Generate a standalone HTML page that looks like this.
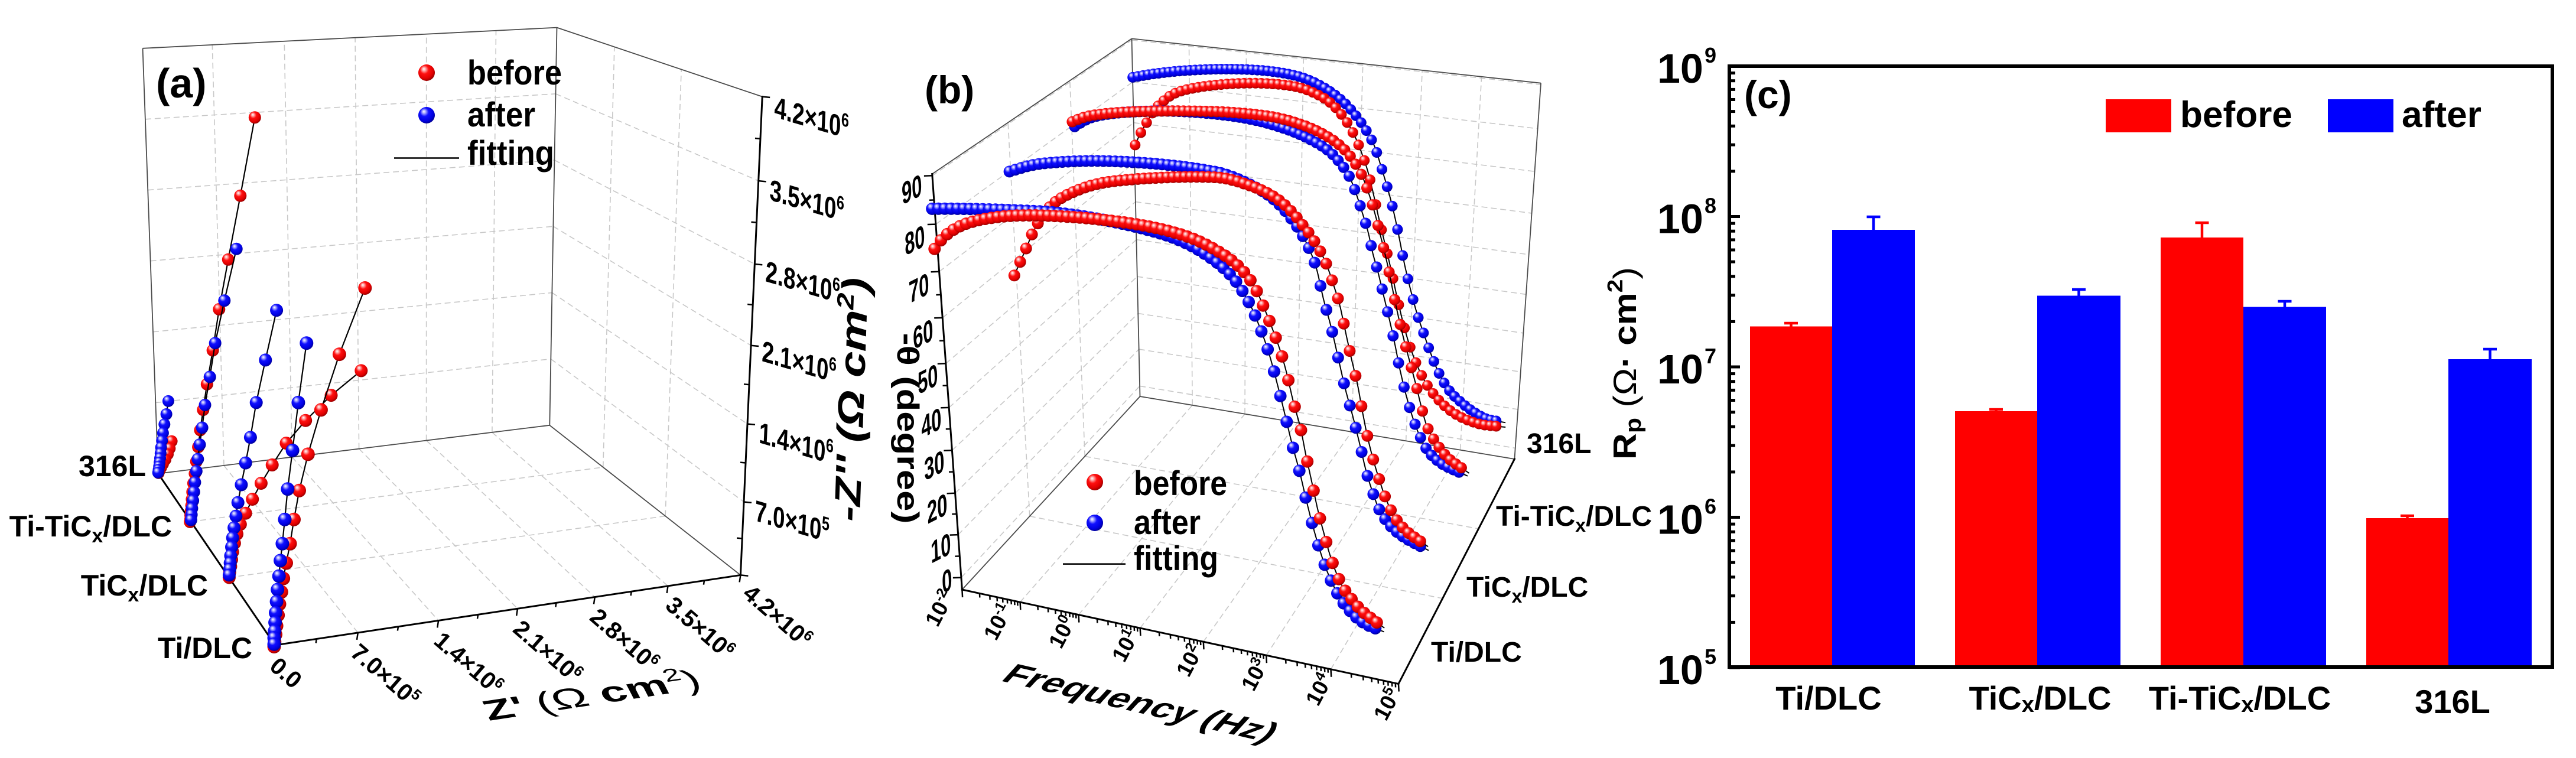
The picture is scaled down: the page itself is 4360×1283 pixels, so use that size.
<!DOCTYPE html>
<html><head><meta charset="utf-8">
<style>
html,body{margin:0;padding:0;background:#fff;}
svg{display:block;}
text{font-family:"Liberation Sans",Arial,sans-serif;font-weight:bold;fill:#000;}
</style></head>
<body>
<svg id="s" xmlns="http://www.w3.org/2000/svg" width="4360" height="1283" viewBox="0 0 4360 1283">
<defs>
<radialGradient id="gR" cx="0.42" cy="0.38" r="0.62" fx="0.33" fy="0.27">
<stop offset="0" stop-color="#ffffff"/><stop offset="0.15" stop-color="#ffb4b4"/><stop offset="0.42" stop-color="#ff1010"/><stop offset="0.8" stop-color="#e00000"/><stop offset="1" stop-color="#9a0000"/>
</radialGradient>
<radialGradient id="gB" cx="0.42" cy="0.38" r="0.62" fx="0.33" fy="0.27">
<stop offset="0" stop-color="#ffffff"/><stop offset="0.15" stop-color="#b4b4ff"/><stop offset="0.42" stop-color="#1010ff"/><stop offset="0.8" stop-color="#0000e0"/><stop offset="1" stop-color="#00009a"/>
</radialGradient>
</defs>
<rect width="4360" height="1283" fill="#fff"/>
<g id="dyn"></g>

<!-- ===== Panel (c) ===== -->
<g>
<rect x="2962" y="552.5" width="139" height="576.5" fill="#ff0000"/>
<rect x="3101" y="389" width="140" height="740" fill="#0000ff"/>
<rect x="3309" y="696" width="139" height="433" fill="#ff0000"/>
<rect x="3448" y="500.5" width="141" height="628.5" fill="#0000ff"/>
<rect x="3657" y="402" width="140" height="727" fill="#ff0000"/>
<rect x="3797" y="519.5" width="140" height="609.5" fill="#0000ff"/>
<rect x="4005" y="877" width="139" height="252" fill="#ff0000"/>
<rect x="4144" y="608" width="141" height="521" fill="#0000ff"/>
<g stroke-width="4.5">
<line x1="3031.5" y1="547" x2="3031.5" y2="553" stroke="#f00"/><line x1="3020" y1="547" x2="3043" y2="547" stroke="#f00"/>
<line x1="3171" y1="367" x2="3171" y2="390" stroke="#00f"/><line x1="3159.5" y1="367" x2="3182.5" y2="367" stroke="#00f"/>
<line x1="3378.5" y1="693" x2="3378.5" y2="697" stroke="#f00"/><line x1="3367" y1="693" x2="3390" y2="693" stroke="#f00"/>
<line x1="3518.5" y1="490" x2="3518.5" y2="501" stroke="#00f"/><line x1="3507" y1="490" x2="3530" y2="490" stroke="#00f"/>
<line x1="3727" y1="377" x2="3727" y2="403" stroke="#f00"/><line x1="3715.5" y1="377" x2="3738.5" y2="377" stroke="#f00"/>
<line x1="3867" y1="510" x2="3867" y2="520" stroke="#00f"/><line x1="3855.5" y1="510" x2="3878.5" y2="510" stroke="#00f"/>
<line x1="4074.5" y1="873" x2="4074.5" y2="878" stroke="#f00"/><line x1="4063" y1="873" x2="4086" y2="873" stroke="#f00"/>
<line x1="4214.5" y1="591" x2="4214.5" y2="609" stroke="#00f"/><line x1="4203" y1="591" x2="4226" y2="591" stroke="#00f"/>
</g>
<rect x="2927" y="112" width="1393" height="1017" fill="none" stroke="#000" stroke-width="6"/>
<g id="ctk"></g>
<g font-size="70">
<text x="2805" y="140">10</text><text x="2885" y="106" font-size="36">9</text>
<text x="2805" y="394.5">10</text><text x="2885" y="360.5" font-size="36">8</text>
<text x="2805" y="649">10</text><text x="2885" y="615" font-size="36">7</text>
<text x="2805" y="903.5">10</text><text x="2885" y="869.5" font-size="36">6</text>
<text x="2805" y="1158">10</text><text x="2885" y="1124" font-size="36">5</text>
</g>
<text x="2952" y="183" font-size="66">(c)</text>
<rect x="3564" y="168" width="111" height="56" fill="#ff0000"/>
<text x="3690" y="215" font-size="62" textLength="190" lengthAdjust="spacingAndGlyphs">before</text>
<rect x="3940" y="168" width="111" height="56" fill="#0000ff"/>
<text x="4065" y="215" font-size="62" textLength="135" lengthAdjust="spacingAndGlyphs">after</text>
<g font-size="56" text-anchor="middle">
<text x="3095" y="1201">Ti/DLC</text>
<text x="3453" y="1201">TiC<tspan font-size="38" dy="4">x</tspan><tspan dy="-4">/DLC</tspan></text>
<text x="3791" y="1201">Ti-TiC<tspan font-size="38" dy="4">x</tspan><tspan dy="-4">/DLC</tspan></text>
<text x="4151" y="1207">316L</text>
</g>
<text transform="translate(2769,615) rotate(-90)" text-anchor="middle" font-size="55" textLength="326" lengthAdjust="spacingAndGlyphs">R<tspan font-size="38" dy="8">p</tspan><tspan dy="-8" font-weight="normal"> (Ω</tspan>· cm<tspan font-size="36" dy="-23">2</tspan><tspan dy="23" font-weight="normal">)</tspan></text>
</g>

<!-- ===== Panel (a) text ===== -->
<g>
<text x="264" y="165" font-size="70">(a)</text>
<circle cx="722" cy="123" r="14" fill="url(#gR)"/>
<text x="791" y="143" font-size="58" textLength="160" lengthAdjust="spacingAndGlyphs">before</text>
<circle cx="722" cy="195" r="14" fill="url(#gB)"/>
<text x="791" y="214" font-size="58" textLength="115" lengthAdjust="spacingAndGlyphs">after</text>
<line x1="667" y1="267.5" x2="777" y2="267.5" stroke="#000" stroke-width="2.5"/>
<text x="791" y="279" font-size="58" textLength="147" lengthAdjust="spacingAndGlyphs">fitting</text>
<g font-size="50">
<text transform="matrix(0.73,0.215,-0.047,1,1310,198)">4.2×10<tspan font-size="32" dy="-19">6</tspan></text>
<text transform="matrix(0.73,0.215,-0.047,1,1302,338)">3.5×10<tspan font-size="32" dy="-19">6</tspan></text>
<text transform="matrix(0.73,0.215,-0.047,1,1295,476)">2.8×10<tspan font-size="32" dy="-19">6</tspan></text>
<text transform="matrix(0.73,0.215,-0.047,1,1289,611)">2.1×10<tspan font-size="32" dy="-19">6</tspan></text>
<text transform="matrix(0.73,0.215,-0.047,1,1284,749)">1.4×10<tspan font-size="32" dy="-19">6</tspan></text>
<text transform="matrix(0.73,0.215,-0.047,1,1277,881)">7.0×10<tspan font-size="32" dy="-19">5</tspan></text>
</g>
<text transform="translate(1462,677) rotate(-88)" text-anchor="middle" font-size="62" font-style="italic" textLength="413" lengthAdjust="spacingAndGlyphs">-Z'' (Ω cm<tspan font-size="40" dy="-23">2</tspan><tspan dy="23">)</tspan></text>
<g font-size="40">
<text transform="translate(454,1131) rotate(41)">0.0</text>
<text transform="translate(591,1108) rotate(41)">7.0×10<tspan font-size="25" dy="-15">5</tspan></text>
<text transform="translate(732,1088) rotate(41)">1.4×10<tspan font-size="25" dy="-15">6</tspan></text>
<text transform="translate(866,1068) rotate(41)">2.1×10<tspan font-size="25" dy="-15">6</tspan></text>
<text transform="translate(996,1048) rotate(41)">2.8×10<tspan font-size="25" dy="-15">6</tspan></text>
<text transform="translate(1124,1028) rotate(41)">3.5×10<tspan font-size="25" dy="-15">6</tspan></text>
<text transform="translate(1255,1008) rotate(41)">4.2×10<tspan font-size="25" dy="-15">6</tspan></text>
</g>
<text transform="matrix(0.988,-0.15,0.34,0.66,827.5,1220)" font-size="70" textLength="368" lengthAdjust="spacingAndGlyphs">Z'<tspan font-weight="normal"> (Ω </tspan>cm<tspan font-size="44" dy="-28" font-weight="normal">2</tspan><tspan font-weight="normal" dy="28">)</tspan></text>
<g font-size="50" text-anchor="end">
<text x="247" y="806">316L</text>
<text x="291" y="908">Ti-TiC<tspan font-size="34" dy="10">x</tspan><tspan dy="-10">/DLC</tspan></text>
<text x="352" y="1008">TiC<tspan font-size="34" dy="10">x</tspan><tspan dy="-10">/DLC</tspan></text>
<text x="427" y="1114">Ti/DLC</text>
</g>
</g>

<!-- ===== Panel (b) text ===== -->
<g>
<text x="1565" y="175" font-size="66">(b)</text>
<circle cx="1853" cy="816" r="14" fill="url(#gR)"/>
<text x="1919" y="838" font-size="58" textLength="158" lengthAdjust="spacingAndGlyphs">before</text>
<circle cx="1853" cy="885" r="14" fill="url(#gB)"/>
<text x="1919" y="904" font-size="58" textLength="113" lengthAdjust="spacingAndGlyphs">after</text>
<line x1="1799" y1="954.6" x2="1905" y2="954.6" stroke="#000" stroke-width="2.5"/>
<text x="1919" y="965" font-size="58" textLength="143" lengthAdjust="spacingAndGlyphs">fitting</text>
<g font-size="52">
<text transform="matrix(0.588,-0.30,0.04,1,1527,347)">90</text>
<text transform="matrix(0.588,-0.30,0.04,1,1532,433)">80</text>
<text transform="matrix(0.588,-0.30,0.04,1,1539,514)">70</text>
<text transform="matrix(0.588,-0.30,0.04,1,1546,592)">60</text>
<text transform="matrix(0.588,-0.30,0.04,1,1554,668)">50</text>
<text transform="matrix(0.588,-0.30,0.04,1,1560,742)">40</text>
<text transform="matrix(0.588,-0.30,0.04,1,1565,814)">30</text>
<text transform="matrix(0.588,-0.30,0.04,1,1570,887)">20</text>
<text transform="matrix(0.588,-0.30,0.04,1,1576,954)">10</text>
<text transform="matrix(0.588,-0.30,0.04,1,1595,1005)">0</text>
</g>
<text transform="translate(1519,725) rotate(90)" text-anchor="middle" font-size="52" textLength="323" lengthAdjust="spacingAndGlyphs">-θ (degree)</text>
<g font-size="37">
<text transform="translate(1587,1063) rotate(-62)">10<tspan font-size="24" dy="-14">-2</tspan></text>
<text transform="translate(1686,1086) rotate(-62)">10<tspan font-size="24" dy="-14">-1</tspan></text>
<text transform="translate(1796,1100) rotate(-62)">10<tspan font-size="24" dy="-14">0</tspan></text>
<text transform="translate(1903,1123) rotate(-62)">10<tspan font-size="24" dy="-14">1</tspan></text>
<text transform="translate(2012,1148) rotate(-62)">10<tspan font-size="24" dy="-14">2</tspan></text>
<text transform="translate(2122,1172) rotate(-62)">10<tspan font-size="24" dy="-14">3</tspan></text>
<text transform="translate(2231,1197) rotate(-62)">10<tspan font-size="24" dy="-14">4</tspan></text>
<text transform="translate(2346,1222) rotate(-62)">10<tspan font-size="24" dy="-14">5</tspan></text>
</g>
<text transform="matrix(0.974,0.225,-0.596,0.648,1692,1152)" font-size="65" textLength="465" lengthAdjust="spacingAndGlyphs">Frequency (Hz)</text>
<g font-size="48">
<text x="2584" y="767">316L</text>
<text x="2532" y="890">Ti-TiC<tspan font-size="32" dy="10">x</tspan><tspan dy="-10">/DLC</tspan></text>
<text x="2482" y="1010">TiC<tspan font-size="32" dy="10">x</tspan><tspan dy="-10">/DLC</tspan></text>
<text x="2422" y="1120">Ti/DLC</text>
</g>
</g>
</svg>

<script>
(function(){
const NS='http://www.w3.org/2000/svg';
const G=document.getElementById('dyn');
function mk(t,a,p){const e=document.createElementNS(NS,t);for(const k in a)e.setAttribute(k,a[k]);(p||G).appendChild(e);return e;}
function L(p,q,t){return [p[0]+(q[0]-p[0])*t,p[1]+(q[1]-p[1])*t];}
function add(p,v,s){return [p[0]+v[0]*s,p[1]+v[1]*s];}
function ln(p,q,st,par){mk('line',Object.assign({x1:p[0].toFixed(1),y1:p[1].toFixed(1),x2:q[0].toFixed(1),y2:q[1].toFixed(1)},st),par);}
const GRID={stroke:'#c8c8c8','stroke-width':1.6,'stroke-dasharray':'10 6'};
const BOX={stroke:'#4a4a4a','stroke-width':1.8};
const AX={stroke:'#000','stroke-width':3,'stroke-linecap':'square'};
const TK={stroke:'#000','stroke-width':2.5};

/* ---------- panel c ticks ---------- */
const CT=document.getElementById('ctk');
for(let e=5;e<=9;e++){const y=1130-254.5*(e-5);ln([2927,y],[2945,y],{stroke:'#000','stroke-width':5},CT);
 if(e<9){for(let m=2;m<10;m++){const yy=y-254.5*Math.log10(m);ln([2927,yy],[2937,yy],{stroke:'#000','stroke-width':5},CT);}}}

/* ---------- panel a ---------- */
const TL=[241.5,81.8],BL=[267.7,801.6],TB=[942.5,46.6],BB=[930.3,719.8],RT=[1290.2,163.6],RB=[1253.4,973.4],FB=[465.6,1092];
const zpB=[0.168,0.342,0.513,0.685,0.853], zpF=[0.178,0.351,0.521,0.687,0.844];
const zzB=[1/6,2/6,3/6,4/6,5/6], zzF=[0.153,0.316,0.48,0.65,0.824];
const dA=[0.28,0.606];
zpB.forEach(f=>ln(L(BL,BB,f),L(TL,TB,f),GRID));
zzB.forEach(g=>ln(L(BL,TL,g),L(BB,TB,g),GRID));
zzB.forEach((g,i)=>ln(L(BB,TB,g),L(RB,RT,zzF[i]),GRID));
dA.forEach(d=>ln(L(BB,RB,d),L(TB,RT,d),GRID));
dA.forEach(d=>ln(L(BL,FB,d),L(BB,RB,d),GRID));
zpB.forEach((f,i)=>ln(L(BL,BB,f),L(FB,RB,zpF[i]),GRID));
[[BL,TL],[TL,TB],[TB,BB],[TB,RT],[BL,BB],[BB,RB]].forEach(s=>ln(s[0],s[1],BOX));
ln(RB,RT,AX); ln(FB,RB,AX); ln(BL,FB,AX);
const zzAll=[0,...zzF,1];
zzAll.forEach((f,i)=>{const p=L(RB,RT,f);ln(p,add(p,[1,0.1],13),TK);if(i<6){const q=L(RB,RT,(f+zzAll[i+1])/2);ln(q,add(q,[-1,-0.1],9),TK);}});
const zpAll=[0,...zpF,1];
zpAll.forEach((f,i)=>{const p=L(FB,RB,f);ln(p,add(p,[-0.15,1],12),TK);if(i<6){const q=L(FB,RB,(f+zpAll[i+1])/2);ln(q,add(q,[-0.15,1],7),TK);}});

const T6=p=>[100+0.818*p[0],0.818*p[1]];
const A316B=[[226,830],[222,857],[218,878],[215,896],[213,912],[211,926],[210,938],[209,948],[208,957],[207,965],[206,972],[205,978]];
const A316R=[[233,913],[229,928],[225,940],[220,951],[215,960],[211,968],[208,974],[206,979]];
const ATTR=[[405,243],[375,405],[350,537],[331,640],[318,725],[306,795],[298,848],[292,890],[288,925],[284,955],[281,980],[278,1000],[276,1018],[275,1033],[274,1046],[273,1057],[272,1066],[272,1074],[271,1080]];
const ATTB=[[367,515],[342,622],[323,710],[312,780],[302,838],[296,885],[291,920],[287,950],[284,975],[281,998],[279,1018],[277,1036],[275,1052],[274,1065],[273,1076]];
const ATCB=[[450,642],[427,745],[408,833],[396,905],[386,958],[377,1003],[370,1040],[366,1068],[362,1092],[359,1113],[357,1132],[355,1150],[354,1165],[353,1178],[352,1190]];
const ATCR=[[625,767],[563,818],[510,870],[470,917],[441,962],[418,1000],[400,1033],[386,1062],[375,1085],[368,1105],[363,1124],[359,1142],[357,1158],[355,1172],[353,1184],[352,1195]];
const ATDB=[[512,710],[495,833],[483,932],[473,1012],[467,1075],[462,1125],[458,1160],[455,1192],[452,1220],[450,1245],[448,1268],[447,1288],[446,1306],[445,1320],[445,1333]];
const ATDR=[[633,596],[580,733],[542,848],[515,940],[497,1015],[486,1075],[478,1125],[470,1165],[464,1197],[460,1225],[456,1250],[453,1273],[450,1295],[448,1313],[446,1328],[445,1338]];
function seriesA(pts,g,r){const P=pts.map(T6);
 mk('polyline',{points:P.map(p=>p[0].toFixed(1)+','+p[1].toFixed(1)).join(' '),fill:'none',stroke:'#000','stroke-width':2.2});
 P.forEach(p=>mk('circle',{cx:p[0].toFixed(1),cy:p[1].toFixed(1),r:r,fill:'url(#'+g+')'}));}
seriesA(A316R,'gR',10);seriesA(A316B,'gB',10);
seriesA(ATTR,'gR',10.5);seriesA(ATTB,'gB',10.5);
seriesA(ATCR,'gR',11);seriesA(ATCB,'gB',11);
seriesA(ATDR,'gR',11.5);seriesA(ATDB,'gB',11.5);

/* ---------- panel b ---------- */
const A=[1628.4,998],At=[1577.7,294.5],D=[1929.5,671],Dt=[1915.5,65.4],C=[2563.4,777],Ct=[2608,140.7],B=[2367,1157.5];
const fth=[0.029,0.132,0.232,0.335,0.438,0.544,0.654,0.765,0.879,0.996];
const ffr=[0,0.133,0.267,0.408,0.553,0.697,0.845,1], fbk=[0,0.14,0.28,0.42,0.565,0.71,0.855,1];
const dB=[0.38,0.69];
fth.forEach(f=>ln(L(A,At,f),L(D,Dt,f),GRID));
dB.forEach(d=>ln(L(A,D,d),L(At,Dt,d),GRID));
fth.forEach(f=>ln(L(D,Dt,f),L(C,Ct,f),GRID));
fbk.slice(1,7).forEach(f=>ln(L(D,C,f),L(Dt,Ct,f),GRID));
for(let i=1;i<7;i++)ln(L(A,B,ffr[i]),L(D,C,fbk[i]),GRID);
dB.forEach(d=>ln(L(A,D,d),L(B,C,d),GRID));
[[At,Dt],[Dt,D],[Dt,Ct],[Ct,C],[D,C],[A,D]].forEach(s=>ln(s[0],s[1],BOX));
ln(A,At,AX); ln(A,B,AX); ln(B,C,AX);
fth.forEach((f,i)=>{const p=L(A,At,f);ln(p,add(p,[-1,0.03],14),TK);if(i<9){const q=L(A,At,(f+fth[i+1])/2);ln(q,add(q,[-1,0.03],8),TK);}});
for(let k=0;k<8;k++){const p=L(A,B,ffr[k]);ln(p,add(p,[0.05,1],13),TK);
 if(k<7){for(let m=2;m<10;m++){const f=ffr[k]+(ffr[k+1]-ffr[k])*Math.log10(m);const q=L(A,B,f);ln(q,add(q,[0.05,1],7),TK);}}}

function catmull(pts,n){const out=[];
 for(let i=0;i<pts.length-1;i++){const p0=pts[Math.max(i-1,0)],p1=pts[i],p2=pts[i+1],p3=pts[Math.min(i+2,pts.length-1)];
  for(let j=0;j<n;j++){const t=j/n,t2=t*t,t3=t2*t;
   const f=(a,b,c,d)=>0.5*((2*b)+(-a+c)*t+(2*a-5*b+4*c-d)*t2+(-a+3*b-3*c+d)*t3);
   out.push([f(p0[0],p1[0],p2[0],p3[0]),f(p0[1],p1[1],p2[1],p3[1])]);}}
 out.push(pts[pts.length-1]);return out;}
function yAt(dense,x){for(let i=0;i<dense.length-1;i++){const a=dense[i],b=dense[i+1];
 if((x>=a[0]&&x<=b[0])){const t=(b[0]===a[0])?0:(x-a[0])/(b[0]-a[0]);return a[1]+(b[1]-a[1])*t;}}
 return dense[dense.length-1][1];}
const T7=p=>[1500+0.818*p[0],0.818*p[1]];
function curve(knots,g,r,N){const K=knots.map(T7);const dense=catmull(K,16);
 const last=dense[dense.length-1],prev=dense[dense.length-5];const dx=last[0]-prev[0],dy=last[1]-prev[1],dl=Math.hypot(dx,dy)||1;
 const ext=[last[0]+dx/dl*16,last[1]+dy/dl*16];
 mk('polyline',{points:dense.concat([ext]).map(p=>p[0].toFixed(1)+','+p[1].toFixed(1)).join(' '),fill:'none',stroke:'#000','stroke-width':2});
 const x0=K[0][0],x1=K[K.length-1][0];
 for(let i=0;i<N;i++){const x=x0+(x1-x0)*i/(N-1);const y=yAt(dense,x);mk('circle',{cx:x.toFixed(1),cy:y.toFixed(1),r:r,fill:'url(#'+g+')'});}}
const B1=[[95,432],[150,432],[200,433],[260,435],[350,440],[450,455],[550,478],[620,503],[680,540],[720,578],[750,625],[770,670],[790,725],[808,790],[825,858],[840,920],[855,975],[868,1030],[881,1082],[894,1128],[907,1168],[922,1205],[942,1242],[967,1272],[990,1290],[1012,1300]];
const R1=[[100,515],[115,495],[135,478],[165,463],[210,452],[270,446],[350,447],[450,455],[550,470],[630,492],[690,522],[730,552],[760,590],[783,640],[800,683],[815,725],[828,770],[842,830],[857,885],[868,940],[880,995],[893,1055],[906,1105],[918,1148],[931,1185],[945,1215],[963,1240],[985,1265],[1015,1288]];
const B2=[[255,355],[300,342],[350,336],[420,333],[500,335],[580,341],[650,350],[700,360],[745,378],[785,400],[815,425],[840,455],[860,485],[875,515],[890,555],[905,620],[920,675],[935,740],[950,805],[965,860],[980,920],[993,975],[1007,1020],[1022,1058],[1045,1090],[1072,1112],[1105,1130]];
const R2=[[265,570],[278,540],[292,508],[305,478],[325,445],[350,418],[390,396],[440,380],[500,372],[580,367],[650,366],[700,369],[750,383],[790,400],[820,420],[845,445],[865,470],[880,490],[898,520],[912,550],[925,588],[938,630],[950,685],[962,740],[975,795],[985,850],[995,900],[1006,945],[1020,992],[1035,1035],[1052,1070],[1075,1098],[1105,1120]];
const B3=[[390,262],[420,245],[460,236],[520,231],[590,230],[680,236],[760,248],[830,268],[880,290],[915,312],[940,338],[958,365],[972,400],[985,440],[997,480],[1007,525],[1018,565],[1030,615],[1042,665],[1053,715],[1063,765],[1075,815],[1088,860],[1103,900],[1122,935],[1150,960],[1185,977]];
const R3=[[385,252],[420,240],[480,233],[560,230],[640,230],[720,233],[800,242],[860,258],[905,278],[940,302],[965,330],[985,365],[1000,405],[1012,445],[1022,485],[1032,525],[1042,570],[1052,620],[1062,665],[1073,710],[1085,755],[1097,800],[1108,845],[1120,885],[1140,920],[1163,948],[1190,968]];
const B4=[[510,160],[560,152],[620,146],[700,143],[780,146],[840,155],[880,168],[915,187],[945,210],[970,237],[992,268],[1010,302],[1024,345],[1036,385],[1048,430],[1060,485],[1072,545],[1085,600],[1098,648],[1112,690],[1128,735],[1145,775],[1165,808],[1190,833],[1215,852],[1240,866],[1262,871]];
const R4=[[515,300],[525,278],[538,255],[552,232],[570,212],[600,192],[650,180],[720,173],[790,173],[850,180],[895,197],[925,218],[950,248],[970,283],[985,320],[998,360],[1010,410],[1020,455],[1032,505],[1045,560],[1058,620],[1070,670],[1083,715],[1098,755],[1115,790],[1138,822],[1165,848],[1195,866],[1230,878],[1262,882]];
curve(B4,'gB',9,71);curve(R4,'gR',9,64);
curve(B3,'gB',9.5,71);curve(R3,'gR',9.5,71);
curve(B2,'gB',10,71);curve(R2,'gR',10,70);
curve(B1,'gB',10.5,71);curve(R1,'gR',10.5,71);
})();
</script>
</body></html>
